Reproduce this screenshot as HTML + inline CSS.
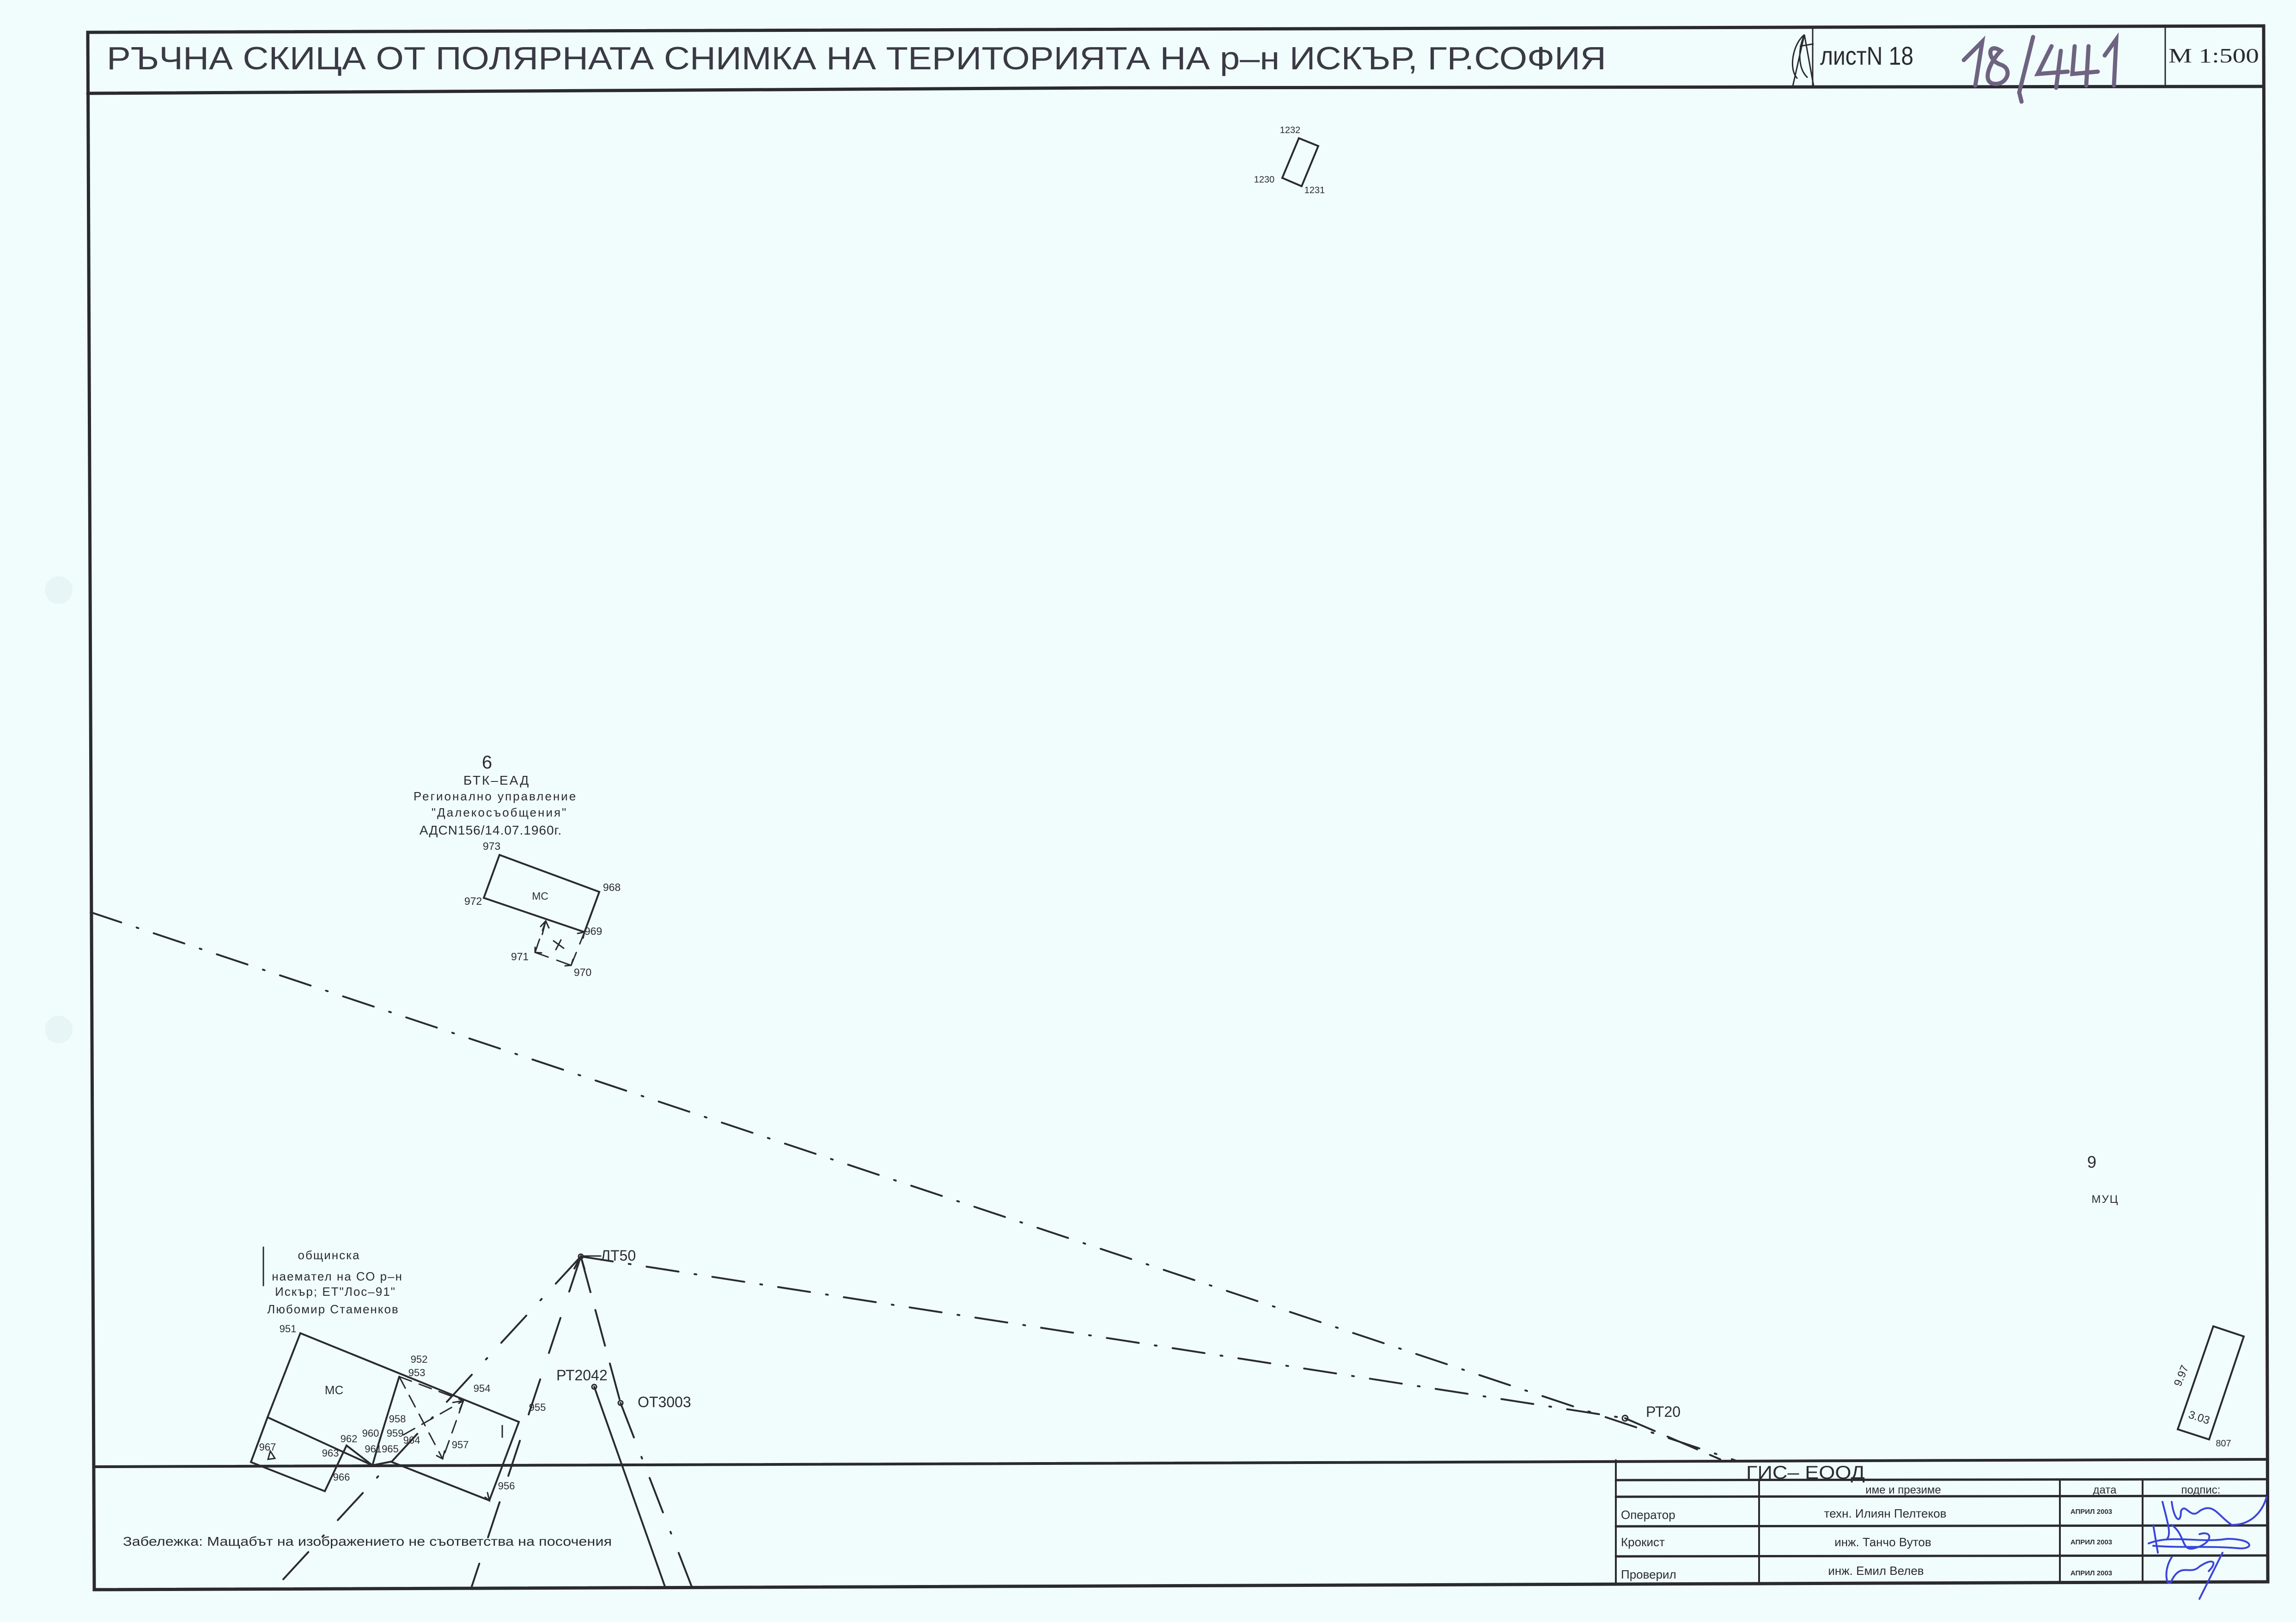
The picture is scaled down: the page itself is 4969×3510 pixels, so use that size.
<!DOCTYPE html>
<html><head><meta charset="utf-8"><style>
html,body{margin:0;padding:0;background:#f1fdfd;}
svg{display:block;}
text{font-family:"Liberation Sans",sans-serif;fill:#2b2b33;}
</style></head><body>
<svg width="4969" height="3510" viewBox="0 0 4969 3510" xmlns="http://www.w3.org/2000/svg">
<rect width="4969" height="3510" fill="#f1fdfd"/>
<circle cx="127" cy="1277" r="30" fill="#e8f5f7"/>
<circle cx="127" cy="2228" r="30" fill="#e8f5f7"/>
<g stroke="#2a2a30" fill="none" stroke-linecap="round">
<path d="M190 70 L4899 56 L4908 3423 L204 3440 Z" stroke-width="7"/>
<path d="M190 202 L2400 190 L4899 187" stroke-width="7"/>
<line x1="3923" y1="57" x2="3923" y2="188" stroke-width="3"/>
<line x1="4686" y1="57" x2="4686" y2="187" stroke-width="3"/>
<line x1="204" y1="3174" x2="4906" y2="3158" stroke-width="6"/>
<line x1="3497" y1="3160" x2="3497" y2="3428" stroke-width="4"/>
<line x1="3497" y1="3203" x2="4907" y2="3201" stroke-width="5"/>
<line x1="3497" y1="3239" x2="4907" y2="3237" stroke-width="5"/>
<line x1="3497" y1="3303" x2="4907" y2="3301" stroke-width="5"/>
<line x1="3497" y1="3368" x2="4907" y2="3366" stroke-width="5"/>
<line x1="3807" y1="3203" x2="3807" y2="3425" stroke-width="4"/>
<line x1="4458" y1="3203" x2="4458" y2="3425" stroke-width="4"/>
<line x1="4637" y1="3203" x2="4637" y2="3425" stroke-width="4"/>
<path d="M2811 299 L2853 316 L2817 403 L2775 385 Z" stroke-width="4"/>
<path d="M1081 1850 L1297 1930 L1265 2017 L1047 1943 Z" stroke-width="4"/>
<g stroke-width="3" stroke-dasharray="30,20">
<path d="M1181 1993 L1169 2040"/><path d="M1158 2061 L1236 2089"/><path d="M1236 2089 L1265 2017"/><path d="M1158 2061 L1181 1993"/>
</g>
<path d="M1170 2005 L1181 1993 L1188 2008 M1158 2050 L1158 2061 L1172 2062 M1223 2090 L1236 2089 L1240 2076 M1250 2020 L1265 2017 L1262 2030 M1198 2036 L1220 2052 M1214 2034 L1203 2055" stroke-width="3"/>
<path d="M4790 2870 L4856 2892 L4781 3115 L4713 3093 Z" stroke-width="4"/>
<line x1="196" y1="1974" x2="3755" y2="3160" stroke-width="4" stroke-dasharray="70,35,4,35"/>
<line x1="1257" y1="2719" x2="3517" y2="3069" stroke-width="4" stroke-dasharray="70,35,4,35"/>
<line x1="3517" y1="3069" x2="3723" y2="3158" stroke-width="4" stroke-dasharray="70,30"/>
<line x1="1257" y1="2719" x2="596" y2="3436" stroke-width="4" stroke-dasharray="80,45,4,45"/>
<line x1="1257" y1="2719" x2="1020" y2="3436" stroke-width="4" stroke-dasharray="80,60"/>
<line x1="1257" y1="2719" x2="1343" y2="3036" stroke-width="4" stroke-dasharray="80,40"/>
<line x1="1343" y1="3036" x2="1498" y2="3436" stroke-width="4" stroke-dasharray="80,45,4,45"/>
<line x1="1286" y1="3001" x2="1440" y2="3436" stroke-width="4"/>
<path d="M1243 2745 L1257 2719 L1265 2746" stroke-width="4"/>
<line x1="1262" y1="2718" x2="1300" y2="2718" stroke-width="3"/>
<circle cx="1257" cy="2719" r="5" stroke-width="3"/>
<circle cx="1286" cy="3001" r="5" stroke-width="3"/>
<circle cx="1343" cy="3036" r="5" stroke-width="3"/>
<circle cx="3517" cy="3069" r="6" stroke-width="3"/>
<path d="M650 2885 L1123 3077 L1059 3247 L846 3163 L806 3171 L579 3067 Z" stroke-width="4"/>
<path d="M579 3067 L543 3164 L703 3227 L750 3128 L806 3171" stroke-width="4"/>
<path d="M864 2979 L820 3122 L806 3171" stroke-width="4"/>
<g stroke-width="3" stroke-dasharray="28,18">
<path d="M864 2979 L958 3157"/><path d="M1003 3031 L958 3157"/><path d="M873 3105 L1003 3031"/><path d="M864 2979 L1003 3031"/>
</g>
<path d="M1087 3085 L1087 3110 M1055 3230 L1059 3247 L1050 3240 M980 3035 L1003 3031 L995 3050 M945 3150 L958 3157 L962 3140 M580 3158 L585 3140 L595 3156 Z" stroke-width="3"/>
<line x1="570" y1="2699" x2="570" y2="2782" stroke-width="3"/>
</g>
<g stroke="#3a46d8" fill="none" stroke-width="4" stroke-linecap="round">
<path d="M4680 3250 C4690 3290 4700 3320 4690 3330 M4700 3250 C4705 3290 4720 3300 4720 3270 C4730 3250 4740 3290 4760 3270 C4790 3250 4800 3280 4830 3300 C4880 3300 4900 3260 4905 3240"/>
<path d="M4660 3300 L4670 3360 M4650 3340 C4700 3320 4760 3340 4820 3330 C4880 3330 4880 3355 4840 3350 C4780 3345 4720 3350 4660 3345"/>
<path d="M4700 3300 C4730 3320 4720 3360 4750 3350 C4790 3340 4790 3310 4760 3320"/>
<path d="M4700 3370 C4680 3400 4690 3440 4700 3420 C4720 3380 4740 3410 4760 3390 C4790 3370 4800 3380 4780 3400 M4810 3360 L4760 3460"/>
</g>
<g stroke="#6e6380" fill="none" stroke-width="9" stroke-linecap="round">
<path d="M4250 130 L4290 90 L4275 185"/>
<path d="M4330 110 C4300 90 4300 130 4330 140 C4360 150 4340 190 4310 180 C4290 170 4310 130 4330 110 Z"/>
<path d="M4400 80 L4370 200 L4375 220"/>
<path d="M4440 100 L4410 160 L4475 155 M4460 110 L4450 190"/>
<path d="M4490 100 L4485 160 L4540 155 M4520 100 L4515 185"/>
<path d="M4555 120 L4580 85 L4575 185"/>
</g>
<g stroke="#2a2a30" fill="none" stroke-width="3">
<path d="M3905 75 C3880 95 3870 150 3890 170 M3905 75 C3890 110 3892 150 3912 168 M3895 100 L3925 95 M3880 186 L3905 75 L3925 186"/>
</g>
<text x="231" y="150" font-size="70" textLength="3245" lengthAdjust="spacingAndGlyphs" style="fill:#3a3a44">РЪЧНА СКИЦА ОТ ПОЛЯРНАТА СНИМКА НА ТЕРИТОРИЯТА НА р–н ИСКЪР, ГР.СОФИЯ</text>
<text x="3939" y="140" font-size="56" textLength="202" lengthAdjust="spacingAndGlyphs">листN 18</text>
<text x="4693" y="135" font-size="44" textLength="196" lengthAdjust="spacingAndGlyphs" style="font-family:'Liberation Serif',serif">М 1:500</text>
<g font-size="20" text-anchor="middle">
<text x="2792" y="288">1232</text><text x="2736" y="395">1230</text><text x="2845" y="418">1231</text>
</g>
<g text-anchor="middle">
<text x="1054" y="1663" font-size="40">6</text>
<text x="1075" y="1698" font-size="28" letter-spacing="3">БТК–ЕАД</text>
<text x="1072" y="1732" font-size="26" letter-spacing="3">Регионално управление</text>
<text x="1081" y="1767" font-size="26" letter-spacing="3">"Далекосъобщения"</text>
<text x="1062" y="1806" font-size="28" letter-spacing="1">АДСN156/14.07.1960г.</text>
</g>
<g font-size="23" text-anchor="middle">
<text x="1064" y="1839">973</text><text x="1324" y="1928">968</text><text x="1024" y="1958">972</text>
<text x="1169" y="1947">МС</text><text x="1284" y="2023">969</text><text x="1125" y="2078">971</text><text x="1261" y="2112">970</text>
</g>
<g text-anchor="middle">
<text x="4527" y="2527" font-size="36">9</text>
<text x="4556" y="2603" font-size="24" letter-spacing="2">МУЦ</text>
<text x="4812" y="3130" font-size="20">807</text>
<text font-size="24" transform="translate(4728 2980) rotate(-68)">9.97</text>
<text font-size="24" transform="translate(4757 3075) rotate(18)">3.03</text>
</g>
<g font-size="26" text-anchor="middle" letter-spacing="2">
<text x="712" y="2725">общинска</text>
<text x="730" y="2771">наемател на СО р–н</text>
<text x="726" y="2804">Искър; ЕТ"Лос–91"</text>
<text x="721" y="2842">Любомир Стаменков</text>
</g>
<g font-size="22" text-anchor="middle">
<text x="623" y="2883">951</text><text x="907" y="2949">952</text><text x="902" y="2978">953</text>
<text x="1043" y="3012">954</text><text x="1163" y="3053">955</text><text x="1096" y="3223">956</text>
<text x="996" y="3134">957</text><text x="860" y="3078">958</text><text x="855" y="3109">959</text>
<text x="802" y="3109">960</text><text x="755" y="3121">962</text><text x="715" y="3152">963</text>
<text x="891" y="3124">964</text><text x="826" y="3143">961965</text><text x="739" y="3204">966</text>
<text x="579" y="3139">967</text><text x="723" y="3017" font-size="26">МС</text>
</g>
<g font-size="32">
<text x="1300" y="2728">ЛТ50</text>
<text x="1204" y="2987">РТ2042</text>
<text x="1380" y="3045">ОТ3003</text>
<text x="3562" y="3066">РТ20</text>
</g>
<text x="266" y="3345" font-size="28" textLength="1058" lengthAdjust="spacingAndGlyphs">Забележка: Мащабът на изображението не съответства на посочения</text>
<text x="3779" y="3200" font-size="40" textLength="257" lengthAdjust="spacingAndGlyphs">ГИС– ЕООД</text>
<g font-size="24" text-anchor="middle">
<text x="4119" y="3232">име и презиме</text><text x="4555" y="3232">дата</text><text x="4763" y="3232">подпис:</text>
</g>
<g font-size="26" text-anchor="middle">
<text x="4080" y="3284">техн. Илиян Пелтеков</text>
<text x="4075" y="3346">инж. Танчо Вутов</text>
<text x="4060" y="3408">инж. Емил Велев</text>
</g>
<g font-size="26">
<text x="3508" y="3287">Оператор</text><text x="3508" y="3346">Крокист</text><text x="3508" y="3416">Проверил</text>
</g>
<g font-size="15" font-weight="bold" text-anchor="middle">
<text x="4526" y="3276">АПРИЛ 2003</text><text x="4526" y="3342">АПРИЛ 2003</text><text x="4526" y="3409">АПРИЛ 2003</text>
</g>
</svg>
</body></html>
